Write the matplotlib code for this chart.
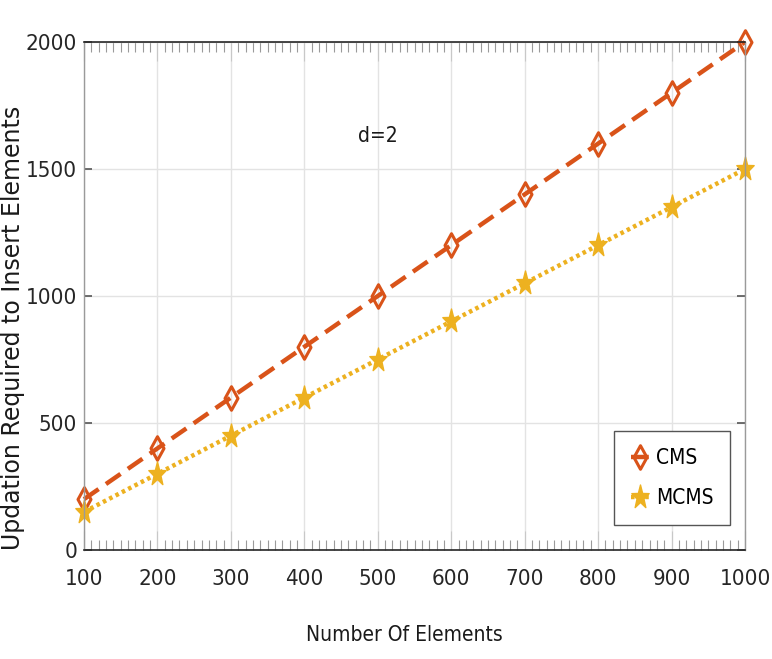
import matplotlib
matplotlib.use("Agg")
import matplotlib.pyplot as plt
from matplotlib.path import Path
from matplotlib.ticker import MultipleLocator
import numpy as np

# data
elements = [100, 200, 300, 400, 500, 600, 700, 800, 900, 1000]
cms = [200, 400, 600, 800, 1000, 1200, 1400, 1600, 1800, 2000]
mcms = [150, 300, 450, 600, 750, 900, 1050, 1200, 1350, 1500]
x_ticks = [100, 200, 300, 400, 500, 600, 700, 800, 900, 1000]
y_ticks = [0, 500, 1000, 1500, 2000]

num_font = dict(family=['Liberation Sans Narrow', 'DejaVu Sans'], stretch='condensed')

# tall diamond and tall star markers
diamond = Path([(0, 1), (0.55, 0), (0, -1), (-0.55, 0), (0, 1)],
               [Path.MOVETO, Path.LINETO, Path.LINETO, Path.LINETO, Path.CLOSEPOLY])
ang = np.pi / 2 + np.arange(10) * np.pi / 5
rad = np.where(np.arange(10) % 2 == 0, 1.0, 0.4)
star_pts = np.column_stack([rad * np.cos(ang) * 0.8, rad * np.sin(ang) * 1.1])
star = Path(np.vstack([star_pts, star_pts[:1]]), closed=True)

fig = plt.figure(figsize=(7.72, 6.59), dpi=100)
ax = fig.add_axes([84 / 772, 1 - 550 / 659, (745 - 84) / 772, (550 - 42) / 659])

ax.plot(elements, cms, color='#D95319', linestyle=(0, (4, 2)), linewidth=3.2,
        marker=diamond, markersize=17, markerfacecolor='none',
        markeredgewidth=2.2, markeredgecolor='#D95319', clip_on=False, label='CMS')
ax.plot(elements, mcms, color='#EDB120', linestyle=(0, (0.8, 0.8)), linewidth=3.2,
        marker=star, markersize=18, markerfacecolor='#EDB120',
        markeredgecolor='#EDB120', clip_on=False, label='MCMS')

ax.set_xlim(100, 1000)
ax.set_ylim(0, 2000)
ax.set_xticks(x_ticks)
ax.set_yticks(y_ticks)
ax.xaxis.set_minor_locator(MultipleLocator(10))
ax.grid(True, which='major', color='#e3e3e3', linewidth=1)
ax.set_axisbelow(True)

ax.tick_params(axis='x', which='major', direction='in', length=14, width=0.8,
               color='#c8c8c8', top=True, pad=14, labelsize=16, labelcolor='#262626')
ax.tick_params(axis='x', which='minor', direction='in', length=7, width=0.8,
               color='#9a9a9a', top=True)
ax.tick_params(axis='y', which='major', direction='in', length=6, width=1.2,
               color='#555555', right=True, pad=5, labelsize=16, labelcolor='#262626')
for lab in ax.get_xticklabels() + ax.get_yticklabels():
    lab.set_fontfamily(num_font['family'])
    lab.set_fontstretch('condensed')

for side in ['top', 'bottom']:
    ax.spines[side].set_color('#262626')
    ax.spines[side].set_linewidth(1.2)
for side in ['left', 'right']:
    ax.spines[side].set_color('#9a9a9a')
    ax.spines[side].set_linewidth(1.0)

ax.text(500, 1630, 'd=2', ha='center', va='center', fontsize=15,
        color='#1a1a1a', **num_font)

leg = ax.legend(loc='lower right', bbox_to_anchor=(0.977, 0.05),
                prop=dict(family=num_font['family'], stretch='condensed', size=15),
                fancybox=False, framealpha=1, edgecolor='#555555',
                handlelength=0.9, handletextpad=0.3, borderpad=0.8, labelspacing=0.95,
                borderaxespad=0)
leg.get_frame().set_linewidth(1.0)

fig.text(404 / 772, 1 - 635 / 659, 'Number Of Elements', ha='center', va='center',
         fontsize=15, color='#1a1a1a', **num_font)
fig.text(13 / 772, 1 - 328 / 659, 'Updation Required to Insert Elements', ha='center',
         va='center', rotation=90, fontsize=17, color='#1a1a1a', family='DejaVu Sans')

fig.savefig('out.png', dpi=100)
